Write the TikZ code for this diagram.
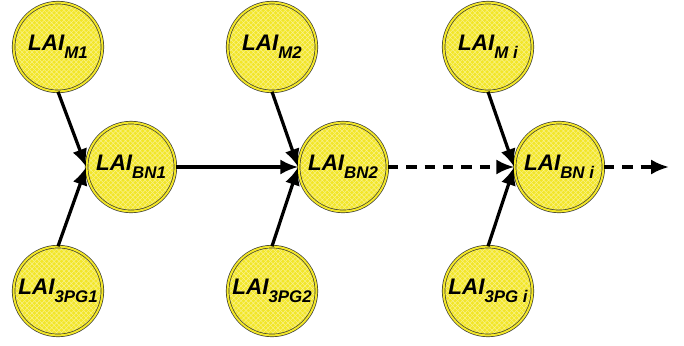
\documentclass[tikz,border=0pt]{standalone}
\usepackage{fontspec}
\setsansfont{Liberation Sans}
\usetikzlibrary{positioning, arrows.meta, patterns.meta}

\definecolor{laiyellow}{RGB}{242,230,40}
\definecolor{laigrid}{RGB}{250,242,140}
\definecolor{laiedge}{RGB}{60,60,50}

\tikzdeclarepattern{
  name=laigrid,
  type=uncolored,
  bounding box={(-.1pt,-.1pt) and (3.6pt,3.6pt)},
  tile size={(3.5pt,3.5pt)},
  code={\draw[line width=0.35pt] (0,0) -- (3.5pt,3.5pt) (0,3.5pt) -- (3.5pt,0);}
}

\newcommand{\lai}[1]{LAI\raisebox{-6pt}{\fontsize{12}{14}\selectfont #1}}

\begin{document}
\begin{tikzpicture}[node distance=3cm and 1.8cm, on grid,
    lainode/.style={circle, minimum size=2.22cm, inner sep=0pt,
        preaction={fill=laiyellow}, pattern=laigrid, pattern color=laigrid,
        draw=laiedge, line width=0.5pt, double=laiyellow, double distance=1.4pt,
        font=\sffamily\bfseries\itshape\fontsize{16}{18}\selectfont},
    arrow/.style={-{Latex[length=4.5mm, width=3.8mm]}, line width=2.3pt},
    dasharrow/.style={arrow, dash pattern=on 2.6mm off 2mm}]

\useasboundingbox (0,0) rectangle (17.1,-8.625);

%prvi stupac
\node[lainode] (m1) at (1.45,-1.175) {\lai{M1}};
\node[lainode] (bn1) [below right=3cm and 1.825cm of m1] {\lai{BN1}};
\node[lainode] (pg1) [below left=3.1cm and 1.825cm of bn1] {\lai{3PG1}};

%drugi stupac
\node[lainode] (bn2) [right=5.3cm of bn1] {\lai{BN2}};
\node[lainode] (m2) [above left=3cm and 1.775cm of bn2] {\lai{M2}};
\node[lainode] (pg2) [below left=3.1cm and 1.775cm of bn2] {\lai{3PG2}};

%treci stupac
\node[lainode] (bni) [right=5.4cm of bn2] {\lai{BN\ i}};
\node[lainode] (mi) [above left=3cm and 1.775cm of bni] {\lai{M\ i}};
\node[lainode] (pgi) [below left=3.1cm and 1.775cm of bni] {\lai{3PG\ i}};
\coordinate[right=2.75cm of bni] (kraj);

%strelice prema BN
\draw[arrow] (m1.south) -- (bn1.west);
\draw[arrow] (pg1.north) -- (bn1.west);
\draw[arrow] (m2.south) -- (bn2.west);
\draw[arrow] (pg2.north) -- (bn2.west);
\draw[arrow] (mi.south) -- (bni.west);
\draw[arrow] (pgi.north) -- (bni.west);

%strelice izmedu BN
\draw[arrow] (bn1.east) -- (bn2.west);
\draw[dasharrow] (bn2.east) -- (bni.west);
\draw[dasharrow] (bni.east) -- (kraj);

\end{tikzpicture}
\end{document}
